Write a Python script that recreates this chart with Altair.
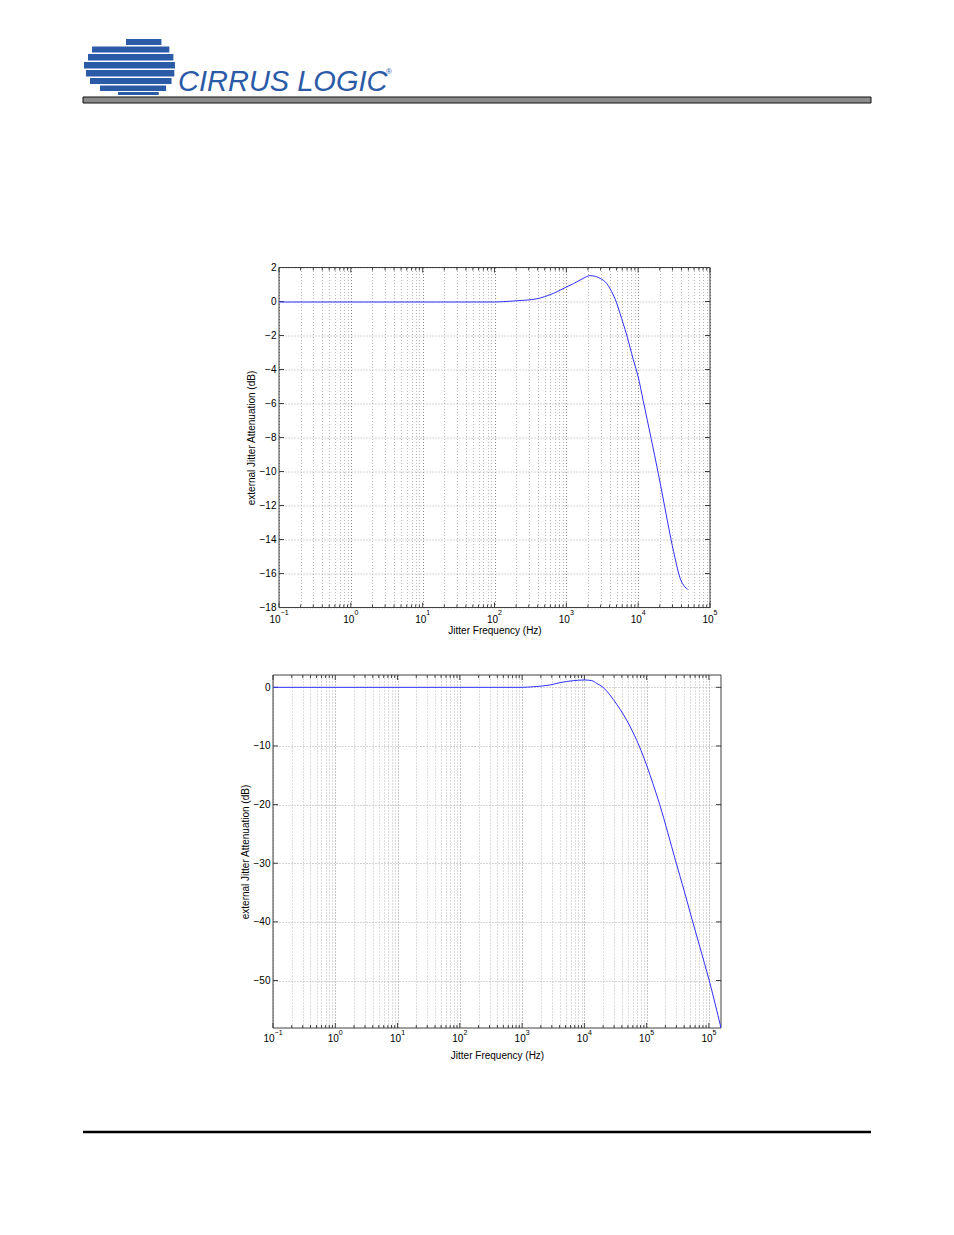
import math
import altair as alt
import pandas as pd

FONT = "Liberation Sans"
LINE_BLUE = "#3030ff"
LOGO_BLUE = "#2b5aa7"

# ---------------- data ----------------
top_freq = [0.1, 100, 132, 200, 380, 661, 1000, 1259, 1698, 2138, 2570, 2951, 3631,
            4508, 5012, 5585, 6918, 8570, 10000, 11749, 15136, 19055, 23442, 27542,
            32359, 38019, 44668, 48978]
top_db = [0, 0, 0.02, 0.07, 0.18, 0.51, 0.88, 1.08, 1.38, 1.55, 1.50, 1.39, 1.10,
          0.41, -0.05, -0.67, -1.94, -3.4, -4.4, -5.8, -8.02, -10.08, -12.05, -13.6,
          -15.0, -16.2, -16.76, -16.9]

bot_freq = [0.1, 1000, 1514, 2818, 4074, 6607, 10000, 13183, 15849, 19953, 25704,
            33113, 42658, 53703, 75858, 100000, 125893, 162181, 218776, 291743,
            398107, 537032, 724436, 1000000, 1563000]
bot_db = [0, 0, 0.1, 0.4, 0.8, 1.13, 1.25, 1.14, 0.65, 0.0, -1.3, -2.9, -4.7, -6.6,
          -10.0, -13.3, -16.4, -20.0, -24.8, -29.6, -34.6, -39.6, -44.5, -49.8, -58.1]

top_xdomain = [0.1, 1e5]
top_ydomain = [-18, 2]
top_yticks = [2, 0, -2, -4, -6, -8, -10, -12, -14, -16, -18]
top_label_at = [0.1, 1, 10, 100, 1000, 10000, 100000]
top_label_exp = ["\u22121", "0", "1", "2", "3", "4", "5"]

bot_xdomain = [0.1, 1.563e6]
bot_ydomain = [-58.1, 2.1]
bot_yticks = [0, -10, -20, -30, -40, -50]
bot_label_at = [0.1, 1, 10, 100, 1000, 10000, 100000, 1000000]
bot_label_exp = ["\u22121", "0", "1", "2", "3", "4", "5", "5"]

x_title = "Jitter Frequency (Hz)"
y_title = "external Jitter Attenuation (dB)"
logo_text = "CIRRUS LOGIC"


def log_ticks(dom):
    lo = int(math.floor(math.log10(dom[0]) + 1e-9))
    hi = int(math.floor(math.log10(dom[1]) + 1e-9))
    majors, minors = [], []
    for e in range(lo, hi + 1):
        for k in range(1, 10):
            v = k * 10.0 ** e
            if dom[0] * 0.999 <= v <= dom[1] * 1.001:
                (majors if k == 1 else minors).append(v)
    return majors, minors


def panel(freq, db, xdom, xrange, ydom, yticks, lab_at, lab_exp, W, H, yoff,
          title_pad, lab_base, exp_base, line_dy, extra=None):
    xs = alt.Scale(type="log", domain=xdom, range=xrange, nice=False)
    ys = alt.Scale(domain=ydom, nice=False, zero=False)
    majors, minors = log_ticks(xdom)
    grid_vals = sorted(majors + minors)
    test = "abs(log(datum.value)/LN10 - round(log(datum.value)/LN10)) < 0.000001"
    xaxis = alt.Axis(
        values=grid_vals, labels=False, ticks=False, tickSize=0, domain=False,
        grid=True, gridDash=[1, 2], gridWidth=1,
        gridColor={"condition": {"test": test, "value": "#8a8a8a"}, "value": "#b8b8b8"},
        title=x_title, titlePadding=title_pad, titleFont=FONT, titleFontSize=10,
        titleFontWeight="normal", titleColor="black")
    yaxis = alt.Axis(
        values=yticks, grid=True, gridDash=[1, 2], gridColor="#a8a8a8", gridWidth=1,
        domain=False, ticks=False, tickSize=0, labelPadding=3, labelFont=FONT,
        labelFontSize=10, labelColor="black", offset=yoff,
        title=y_title, titlePadding=3, titleFont=FONT, titleFontSize=10,
        titleFontWeight="normal", titleColor="black")

    line = alt.Chart(pd.DataFrame({"f": freq, "db": db})).mark_line(
        color=LINE_BLUE, strokeWidth=1, interpolate="monotone", clip=True,
        yOffset=line_dy
    ).encode(
        x=alt.X("f:Q", scale=xs, axis=xaxis),
        y=alt.Y("db:Q", scale=ys, axis=yaxis),
    )

    frame = alt.Chart(pd.DataFrame({"a": [0]})).mark_rect(
        fillOpacity=0, stroke="#404040", strokeWidth=1
    ).encode(
        x=alt.XDatum(xdom[0], type="quantitative", scale=xs, axis=xaxis),
        x2=alt.X2Datum(xdom[1]),
        y=alt.YDatum(ydom[0], type="quantitative", scale=ys, axis=yaxis),
        y2=alt.Y2Datum(ydom[1]),
    )

    layers = [frame]
    # inward ticks
    for vals, ln in ((majors, 5), (minors, 3)):
        tdf = pd.DataFrame({"v": vals})
        for y0, y1 in ((H, H - ln), (0, ln)):
            layers.append(alt.Chart(tdf).mark_rule(color="#404040", strokeWidth=1).encode(
                x=alt.X("v:Q", scale=xs, axis=xaxis), y=alt.value(y0), y2=alt.value(y1)))
    ydf = pd.DataFrame({"v": yticks})
    for x0, x1 in ((xrange[0], xrange[0] + 5), (xrange[1], xrange[1] - 5)):
        layers.append(alt.Chart(ydf).mark_rule(color="#404040", strokeWidth=1).encode(
            y=alt.Y("v:Q", scale=ys, axis=yaxis), x=alt.value(x0), x2=alt.value(x1)))
    layers.append(line)

    # "10" + superscript exponent labels
    ldf = pd.DataFrame({"v": lab_at, "e": lab_exp})
    for sub, dx in ((ldf[ldf.e.str.len() > 1], 1.6), (ldf[ldf.e.str.len() == 1], 3.6)):
        layers.append(alt.Chart(sub).mark_text(
            text="10", align="right", baseline="alphabetic", dx=dx, font=FONT,
            fontSize=10, color="black").encode(
            x=alt.X("v:Q", scale=xs, axis=xaxis), y=alt.value(H + lab_base)))
        layers.append(alt.Chart(sub).mark_text(
            align="left", baseline="alphabetic", dx=dx, font=FONT, fontSize=7,
            color="black").encode(
            x=alt.X("v:Q", scale=xs, axis=xaxis), y=alt.value(H + exp_base),
            text="e:N"))
    if extra is not None:
        layers.extend(extra)
    return alt.layer(*layers).properties(width=W, height=H)


# ---------------- page layout ----------------
OX, OY = 273, 104          # header group origin (page px)
BOT_TOP = 675              # bottom plot top (page px)

stripe_top = [40, 47.5, 55, 63, 71, 79, 86.5, 93]
stripe_bot = [46, 53.5, 61.5, 69.5, 77.5, 85, 92, 96]
stripe_left = [126, 92, 88, 84, 86, 90, 100, 118]
cx, cy, rx, ry = 146, 68, 29, 29.5
rights = []
for a, b in zip(stripe_top, stripe_bot):
    m = (a + b) / 2
    rights.append(cx + rx * math.sqrt(max(0.0, 1 - ((m - cy) / ry) ** 2)))
sdf = pd.DataFrame({
    "x1": [v - OX for v in stripe_left], "x2": [v - OX for v in rights],
    "y1": [v - OY for v in stripe_top], "y2": [v - OY for v in stripe_bot]})

stripes = alt.Chart(sdf).mark_rect(color=LOGO_BLUE).encode(
    x=alt.X("x1:Q", scale=None, axis=None), x2="x2:Q",
    y=alt.Y("y1:Q", scale=None, axis=None), y2="y2:Q")
bar = alt.Chart(pd.DataFrame({"a": [0]})).mark_rect(
    fill="#8c8c8c", stroke="#111111", strokeWidth=1).encode(
    x=alt.value(83 - OX), x2=alt.value(871 - OX),
    y=alt.value(98 - OY), y2=alt.value(104 - OY))
logo = alt.Chart(pd.DataFrame({"a": [0]})).mark_text(
    text=logo_text, align="left", baseline="alphabetic", font=FONT,
    fontSize=29, fontStyle="italic", color=LOGO_BLUE).encode(
    x=alt.value(178 - OX), y=alt.value(92 - OY))
reg = alt.Chart(pd.DataFrame({"a": [0]})).mark_text(
    text="\u00ae", align="left", baseline="middle", font=FONT, fontSize=8,
    color=LOGO_BLUE).encode(x=alt.value(386 - OX), y=alt.value(73 - OY))
header = alt.layer(stripes, bar, logo, reg).properties(width=1, height=121)

footer = alt.Chart(pd.DataFrame({"a": [0]})).mark_rule(
    color="black", strokeWidth=2.3).encode(
    x=alt.value(83 - OX), x2=alt.value(871 - OX), y=alt.value(1132 - BOT_TOP))

top = panel(top_freq, top_db, top_xdomain, [6, 437], top_ydomain, top_yticks,
            top_label_at, top_label_exp, 437, 340, -6, 18, 15.5, 7.5, 0.5)
bottom = panel(bot_freq, bot_db, bot_xdomain, [0, 448], bot_ydomain, bot_yticks,
               bot_label_at, bot_label_exp, 448, 353, 0, 22, 14, 6.5, 0,
               extra=[footer])

chart = alt.vconcat(header, top, bottom, spacing=38.5).properties(
    padding={"left": 73, "top": 31, "right": 5, "bottom": 5}
).configure_view(stroke=None)

chart.save("out.html", embed_options={"renderer": "svg", "actions": False})
